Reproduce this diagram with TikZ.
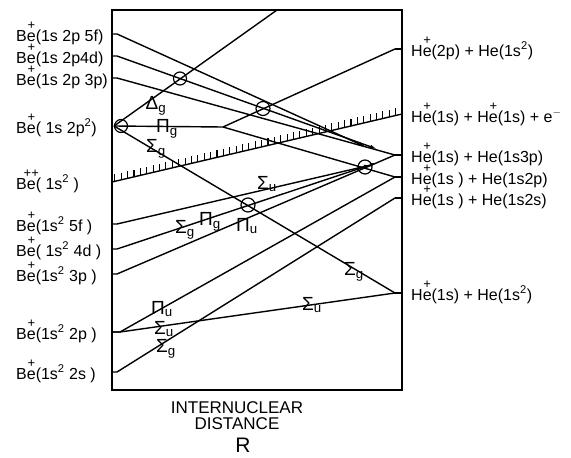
\documentclass[tikz,border=0pt]{standalone}
\usepackage{fontspec}
\setmainfont{Liberation Sans}
\usetikzlibrary{arrows.meta, calc}

% charge written over the e
\newcommand{\chg}[1]{\makebox[0pt][l]{\makebox[0.556em]{\raisebox{0.72em}{\fontsize{13}{13}\selectfont #1}}}e}

\tikzset{
  corr/.style={line width=1.4pt, draw=black, line join=round},
  conv/.style={corr, -{Latex[length=7pt, width=4pt]}},
  frame/.style={line width=1.8pt, draw=black},
  xcirc/.style={circle, draw=black, line width=1.2pt, inner sep=0pt, minimum size=13pt},
  hatchtick/.style={line width=1.1pt},
  statelabel/.style={font=\fontsize{16}{18}\selectfont, inner sep=0pt},
  symlabel/.style={font=\fontsize{19}{21}\selectfont, inner sep=0pt},
  axislabel/.style={font=\fontsize{17}{19}\selectfont, inner sep=0pt},
}

\begin{document}
\begin{tikzpicture}[x=1pt, y=-1pt]
  \useasboundingbox (0,0) rectangle (571,458);

  % ------------------------------------------------------------
  % Frame
  % ------------------------------------------------------------
  \coordinate (frameNW) at (112,10);
  \coordinate (frameSE) at (402,390);
  \draw[frame] (frameNW) rectangle (frameSE);

  % ------------------------------------------------------------
  % Levels: united atom (left), separated atoms (right)
  % ------------------------------------------------------------
  \coordinate (u5f)  at (112,34);
  \coordinate (u4d)  at (112,56);
  \coordinate (u3p)  at (112,78);
  \coordinate (p2)   at (114,126);
  \coordinate (ionL) at (112,182);
  \coordinate (l5f)  at (112,224);
  \coordinate (l4d)  at (112,249);
  \coordinate (l3p)  at (112,274);
  \coordinate (l2p)  at (112,332);
  \coordinate (l2s)  at (112,372);

  \coordinate (he2p)  at (395,49);
  \coordinate (ionR)  at (402,114);
  \coordinate (he3p)  at (395,155);
  \coordinate (he2pb) at (395,177);
  \coordinate (he2s)  at (395,198);
  \coordinate (hegs)  at (395,293);

  \coordinate (dgTop) at (277,10);
  \coordinate (pgKnee) at (223,127);
  \coordinate (tip5f) at (366,147);
  \coordinate (tip4d) at (377,149);
  \coordinate (tipl5f) at (371,165);
  \coordinate (tipl4d) at (377,162.7);

  % right-hand stubs
  \foreach \lev in {he2p, he3p, he2pb, he2s, hegs}
    \draw[corr] (\lev) -- ++(7,0);

  % ------------------------------------------------------------
  % Correlation lines
  % ------------------------------------------------------------
  % upper Rydberg group
  \draw[conv] (u5f) -- ++(5,0) -- (tip5f);
  \draw[conv] (u4d) -- ++(5,0) -- (tip4d);
  \draw[corr] (u3p) -- ++(5,0) -- (he3p);

  % from 1s2p^2
  \draw[corr] (p2) -- (dgTop);
  \draw[corr] (p2) -- (pgKnee) -- (he2pb);
  \draw[corr] (pgKnee) -- (he2p);
  \draw[corr] (p2) -- (hegs);

  % ionisation limit
  \draw[corr] (ionL) -- (ionR);
  \foreach \t in {0.01,0.032,...,0.99}
    \draw[hatchtick] ($(ionL)!\t!(ionR)$) -- ++(0,-7);

  % lower Rydberg group
  \draw[conv] (l5f) -- ++(5,0) -- (tipl5f);
  \draw[conv] (l4d) -- ++(5,0) -- (tipl4d);
  \draw[corr] (l3p) -- ++(5,0) -- (he3p);

  % 1s^2 2p and 1s^2 2s
  \draw[corr] (l2p) -- ++(8,0) -- (he2pb);
  \draw[corr] (l2p) -- ++(8,0) -- (hegs);
  \draw[corr] (l2s) -- ++(5,0) -- (he2s);

  % crossings
  \node[xcirc] (cross1) at (121,126) {};
  \node[xcirc] (cross2) at (180,78.5) {};
  \node[xcirc, minimum size=14pt] (cross3) at (263,108.5) {};
  \node[xcirc, minimum size=14pt] (cross4) at (365,167) {};
  \node[xcirc, minimum size=14pt] (cross5) at (248,205) {};

  % ------------------------------------------------------------
  % Symmetry labels
  % ------------------------------------------------------------
  \node[symlabel] (dgLab)  at (156,106) {Δ\textsubscript{g}};
  \node[symlabel] (pgLab)  at (167,129) {Π\textsubscript{g}};
  \node[symlabel] (sgLab)  at (156,149) {Σ\textsubscript{g}};
  \node[symlabel] (suLab)  at (267,184) {Σ\textsubscript{u}};
  \node[symlabel] (sgLab2) at (185,230) {Σ\textsubscript{g}};
  \node[symlabel] (pgLab2) at (210,222) {Π\textsubscript{g}};
  \node[symlabel] (puLab)  at (247,226) {Π\textsubscript{u}};
  \node[symlabel] (sgLab3) at (354,272) {Σ\textsubscript{g}};
  \node[symlabel] (puLab2) at (162,309) {Π\textsubscript{u}};
  \node[symlabel] (suLab2) at (164,329) {Σ\textsubscript{u}};
  \node[symlabel] (sgLab4) at (166,349) {Σ\textsubscript{g}};
  \node[symlabel] (suLab3) at (312,305) {Σ\textsubscript{u}};

  % ------------------------------------------------------------
  % State labels
  % ------------------------------------------------------------
  \node[statelabel, anchor=base west] (lab5f)  at (16,41)  {B\chg{+}(1s 2p 5f)};
  \node[statelabel, anchor=base west] (lab4d)  at (16,63)  {B\chg{+}(1s 2p4d)};
  \node[statelabel, anchor=base west] (lab3p)  at (16,85)  {B\chg{+}(1s 2p 3p)};
  \node[statelabel, anchor=base west] (lab2p2) at (16,133) {B\chg{+}( 1s 2p\textsuperscript{2})};
  \node[statelabel, anchor=base west] (labion) at (16,189) {B\chg{++}( 1s\textsuperscript{2} )};
  \node[statelabel, anchor=base west] (labl5f) at (16,231) {B\chg{+}(1s\textsuperscript{2} 5f )};
  \node[statelabel, anchor=base west] (labl4d) at (16,256) {B\chg{+}( 1s\textsuperscript{2} 4d )};
  \node[statelabel, anchor=base west] (labl3p) at (16,281) {B\chg{+}(1s\textsuperscript{2} 3p )};
  \node[statelabel, anchor=base west] (labl2p) at (16,339) {B\chg{+}(1s\textsuperscript{2} 2p )};
  \node[statelabel, anchor=base west] (labl2s) at (16,379) {B\chg{+}(1s\textsuperscript{2} 2s )};

  \node[statelabel, anchor=base west] (labr2p)  at (411,56)  {H\chg{+}(2p) + He(1s\textsuperscript{2})};
  \node[statelabel, anchor=base west] (labrion) at (411,122) {H\chg{+}(1s) + H\chg{+}(1s) + e$^-$};
  \node[statelabel, anchor=base west] (labr3p)  at (411,162) {H\chg{+}(1s) + He(1s3p)};
  \node[statelabel, anchor=base west] (labr2pb) at (411,184) {H\chg{+}(1s ) + He(1s2p)};
  \node[statelabel, anchor=base west] (labr2s)  at (411,205) {H\chg{+}(1s ) + He(1s2s)};
  \node[statelabel, anchor=base west] (labrgs)  at (411,300) {H\chg{+}(1s) + He(1s\textsuperscript{2})};

  % ------------------------------------------------------------
  % Axis label
  % ------------------------------------------------------------
  \node[axislabel, anchor=base] (xlab1) at (237,413) {INTERNUCLEAR};
  \node[axislabel, anchor=base] (xlab2) at (237,429) {DISTANCE};
  \node[axislabel, anchor=base, font=\fontsize{21}{23}\selectfont] (xlabR) at (243,452) {R};

\end{tikzpicture}
\end{document}
